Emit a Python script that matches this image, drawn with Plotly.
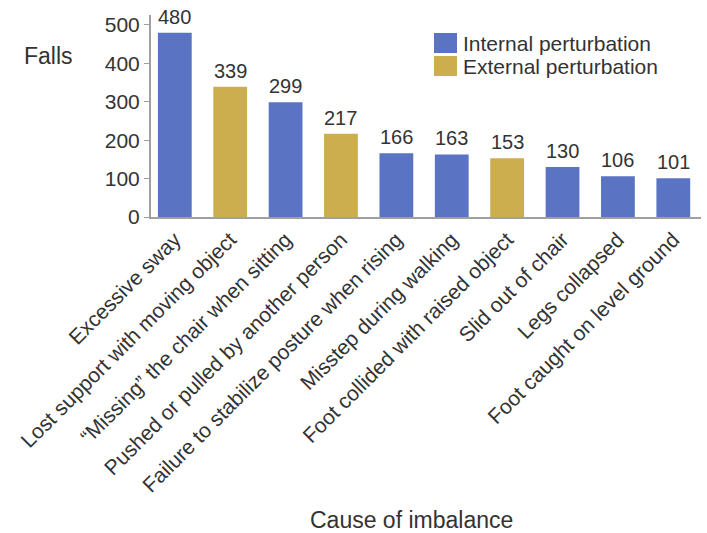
import plotly.graph_objects as go

# Causes of imbalance leading to falls, sorted by count
causes = [
    "Excessive sway",
    "Lost support with moving object",
    "\u201cMissing\u201d the chair when sitting",
    "Pushed or pulled by another person",
    "Failure to stabilize posture when rising",
    "Misstep during walking",
    "Foot collided with raised object",
    "Slid out of chair",
    "Legs collapsed",
    "Foot caught on level ground",
]
falls = [480, 339, 299, 217, 166, 163, 153, 130, 106, 101]
perturbation = ["Internal", "External", "Internal", "External", "Internal",
                "Internal", "External", "Internal", "Internal", "Internal"]

legend_labels = ["Internal perturbation", "External perturbation"]
y_ticks = [0, 100, 200, 300, 400, 500]

BLUE = "#5a73c2"
GOLD = "#cdae4f"
TEXT = "#333333"
FONT = "Liberation Sans, Arial, sans-serif"
colour_of = {"Internal": BLUE, "External": GOLD}

W, H = 707, 533
L, R, T, B = 151, 6, 15, 316
pw, ph = W - L - R, H - T - B


def px_x(p):
    return (p - L) / pw


def px_y(p):
    return (H - B - p) / ph


fig = go.Figure()
fig.add_trace(go.Bar(
    x=causes,
    y=falls,
    marker=dict(color=[colour_of[p] for p in perturbation], line=dict(width=0)),
    showlegend=False,
    hoverinfo="x+y",
))

# value labels above each bar
for c, v in zip(causes, falls):
    fig.add_annotation(x=c, y=v, text=str(v), showarrow=False,
                       yanchor="bottom", yshift=3,
                       font=dict(family=FONT, size=20, color=TEXT))

# legend block
for i, (lab, col) in enumerate(zip(legend_labels, [BLUE, GOLD])):
    top = 33 + i * 23
    fig.add_shape(type="rect", xref="paper", yref="paper",
                  x0=px_x(434), x1=px_x(457), y0=px_y(top + 20), y1=px_y(top),
                  fillcolor=col, line=dict(width=0))
    fig.add_annotation(xref="paper", yref="paper", x=px_x(461), y=px_y(top + 10),
                       text=lab, showarrow=False, xanchor="left", yanchor="middle",
                       font=dict(family=FONT, size=21, color=TEXT))

# axis titles
fig.add_annotation(xref="paper", yref="paper", x=px_x(22), y=px_y(56),
                   text="Falls", showarrow=False, xanchor="left", yanchor="middle",
                   font=dict(family=FONT, size=23, color=TEXT))
fig.add_annotation(xref="paper", yref="paper", x=px_x(411), y=px_y(520),
                   text="Cause of imbalance", showarrow=False,
                   xanchor="center", yanchor="middle",
                   font=dict(family=FONT, size=23, color=TEXT))

fig.update_layout(
    width=W, height=H, autosize=False,
    margin=dict(l=L, r=R, t=T, b=B, pad=0),
    paper_bgcolor="white", plot_bgcolor="white",
    bargap=0.39,
    font=dict(family=FONT, color=TEXT),
)
fig.update_xaxes(
    range=[-0.43, 9.5], showline=True, linecolor="#a0a0a0", linewidth=2,
    ticks="", tickangle=-45, showgrid=False, zeroline=False,
    tickfont=dict(family=FONT, size=21, color=TEXT),
)
fig.update_yaxes(
    range=[0, 526], tickvals=y_ticks, showline=True, linecolor="#a0a0a0",
    linewidth=2, ticks="outside", ticklen=5, tickcolor="#a0a0a0",
    showgrid=False, zeroline=False,
    tickfont=dict(family=FONT, size=21, color=TEXT),
)

fig.write_html("out.html")
